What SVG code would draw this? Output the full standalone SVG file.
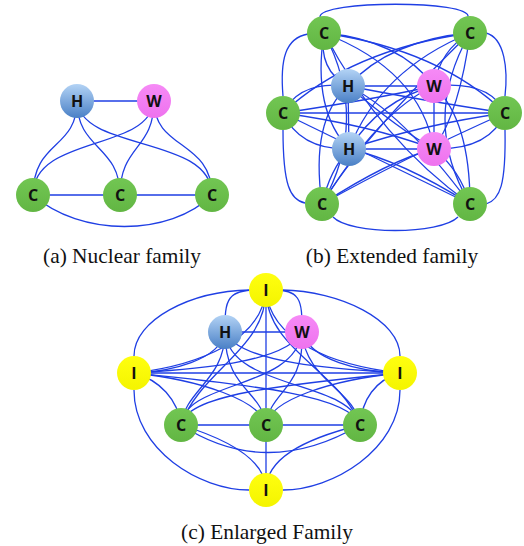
<svg xmlns="http://www.w3.org/2000/svg" width="524" height="546" viewBox="0 0 524 546">
<defs>
<linearGradient id="gH" x1="0" y1="0" x2="0" y2="1"><stop offset="0" stop-color="#b3d3f5"/><stop offset="1" stop-color="#4a80c6"/></linearGradient>
<linearGradient id="gW" x1="0" y1="0" x2="0" y2="1"><stop offset="0" stop-color="#f68af6"/><stop offset="1" stop-color="#ee72ee"/></linearGradient>
<linearGradient id="gC" x1="0" y1="0" x2="0" y2="1"><stop offset="0" stop-color="#72c653"/><stop offset="1" stop-color="#62b643"/></linearGradient>
<linearGradient id="gI" x1="0" y1="0" x2="0" y2="1"><stop offset="0" stop-color="#ffff10"/><stop offset="1" stop-color="#f4f400"/></linearGradient>
</defs>
<style>
.e{fill:none;stroke:#1f3fe4;stroke-width:1.3}
.h{fill:url(#gH)}.w{fill:url(#gW)}.c{fill:url(#gC)}.i{fill:url(#gI)}
.t{font-family:"Open Sans","Liberation Sans",Arial,sans-serif;font-weight:bold;font-size:16px;text-anchor:middle;fill:#111}
.cap{font-family:"Liberation Serif","Times New Roman",serif;font-size:21.4px;text-anchor:middle;fill:#111}
</style>
<rect width="524" height="546" fill="#fff"/>
<g id="connectors">
<!-- panel a -->
<path class="e" d="M77,101 L154,101"/>
<path class="e" d="M77,101 C77,150 33,140 33,195"/>
<path class="e" d="M77,101 C77,150 120,145 120,195"/>
<path class="e" d="M77,101 C82,152 212,135 212,195"/>
<path class="e" d="M154,101 C149,152 33,135 33,195"/>
<path class="e" d="M154,101 C154,150 120,145 120,195"/>
<path class="e" d="M154,101 C154,150 212,140 212,195"/>
<path class="e" d="M33,195 L120,195 M120,195 L212,195"/>
<path class="e" d="M33,195 C80,237 170,237 212,195"/>
<!-- panel b -->
<path class="e" d="M320,17 C320,0 472,0 468,17"/>
<path class="e" d="M308,34 C285,38 280,60 283,96"/>
<path class="e" d="M283,130 C283,185 290,200 305,203"/>
<path class="e" d="M486,33 C505,38 508,70 505,96"/>
<path class="e" d="M505,130 C506,185 500,200 486,204"/>
<path class="e" d="M333,217 C350,235 440,235 458,217"/>
<path class="e" d="M283,113 L505,113"/>
<path class="e" d="M324,33 Q318,70 348,86"/>
<path class="e" d="M324,33 Q400,40 434,86"/>
<path class="e" d="M324,33 Q312,110 349,149"/>
<path class="e" d="M324,33 Q420,70 434,149"/>
<path class="e" d="M324,33 Q440,50 505,113"/>
<path class="e" d="M324,33 Q370,120 322,204"/>
<path class="e" d="M324,33 Q380,140 470,204"/>
<path class="e" d="M470,33 Q390,40 348,86"/>
<path class="e" d="M470,33 Q440,50 434,86"/>
<path class="e" d="M470,33 Q380,70 349,149"/>
<path class="e" d="M470,33 Q460,110 434,149"/>
<path class="e" d="M470,33 Q350,50 283,113"/>
<path class="e" d="M470,33 Q360,140 322,204"/>
<path class="e" d="M470,33 Q420,120 470,204"/>
<path class="e" d="M283,113 Q300,80 348,86"/>
<path class="e" d="M283,113 Q370,100 434,86"/>
<path class="e" d="M283,113 Q300,150 349,149"/>
<path class="e" d="M283,113 Q370,125 434,149"/>
<path class="e" d="M283,113 Q380,160 470,204"/>
<path class="e" d="M505,113 Q420,100 348,86"/>
<path class="e" d="M505,113 Q490,80 434,86"/>
<path class="e" d="M505,113 Q420,125 349,149"/>
<path class="e" d="M505,113 Q490,150 434,149"/>
<path class="e" d="M505,113 Q400,160 322,204"/>
<path class="e" d="M322,204 Q310,120 348,86"/>
<path class="e" d="M322,204 Q380,110 434,86"/>
<path class="e" d="M322,204 Q330,170 349,149"/>
<path class="e" d="M322,204 Q390,160 434,149"/>
<path class="e" d="M470,204 Q400,110 348,86"/>
<path class="e" d="M470,204 Q470,120 434,86"/>
<path class="e" d="M470,204 Q400,160 349,149"/>
<path class="e" d="M470,204 Q460,170 434,149"/>
<path class="e" d="M348,86 L434,86"/>
<path class="e" d="M348,86 L349,149"/>
<path class="e" d="M348,86 Q400,130 434,149"/>
<path class="e" d="M434,86 Q380,100 349,149"/>
<path class="e" d="M434,86 L434,149"/>
<path class="e" d="M349,149 L434,149"/>
<!-- panel c -->
<path class="e" d="M250,290 C190,291 134,320 134,356"/>
<path class="e" d="M282,290 C340,291 400,320 400,356"/>
<path class="e" d="M134,390 C134,450 200,490 249,490"/>
<path class="e" d="M400,390 C400,450 332,490 283,490"/>
<path class="e" d="M266,290 C225,288 225,300 225,332"/>
<path class="e" d="M266,290 C302,288 302,300 302,332"/>
<path class="e" d="M266,290 L266,490"/>
<path class="e" d="M225,332 L302,332"/>
<path class="e" d="M134,373 L400,373"/>
<path class="e" d="M181,425 L266,425 M266,425 L360,425"/>
<path class="e" d="M181,425 C230,440 266,460 266,490"/>
<path class="e" d="M360,425 C300,440 266,460 266,490"/>
<path class="e" d="M181,425 Q266,480 360,425"/>
<path class="e" d="M266,290 C266,350 200,370 181,425"/>
<path class="e" d="M266,290 C266,350 340,370 360,425"/>
<path class="e" d="M266,290 C262,340 200,365 134,373"/>
<path class="e" d="M266,290 C270,340 330,365 400,373"/>
<path class="e" d="M225,332 C225,380 185,390 181,425"/>
<path class="e" d="M225,332 C225,390 262,390 266,425"/>
<path class="e" d="M225,332 C230,390 350,380 360,425"/>
<path class="e" d="M225,332 C220,360 170,372 134,373"/>
<path class="e" d="M225,332 C240,365 350,370 400,373"/>
<path class="e" d="M302,332 C295,390 185,380 181,425"/>
<path class="e" d="M302,332 C305,390 270,390 266,425"/>
<path class="e" d="M302,332 C305,380 355,390 360,425"/>
<path class="e" d="M302,332 C285,365 180,370 134,373"/>
<path class="e" d="M302,332 C310,360 360,372 400,373"/>
<path class="e" d="M134,373 C160,380 178,400 181,425"/>
<path class="e" d="M134,373 C200,380 260,400 266,425"/>
<path class="e" d="M134,373 C250,385 350,395 360,425"/>
<path class="e" d="M400,373 C280,385 185,395 181,425"/>
<path class="e" d="M400,373 C330,380 270,400 266,425"/>
<path class="e" d="M400,373 C375,380 362,400 360,425"/>
</g>
<!-- nodes panel a -->
<g id="a-H"><circle class="h" cx="77" cy="101" r="17"/><text class="t" x="77" y="107">H</text></g>
<g id="a-W"><circle class="w" cx="154" cy="101" r="17"/><text class="t" x="154" y="107">W</text></g>
<g id="a-C1"><circle class="c" cx="33" cy="195" r="17"/><text class="t" x="33" y="201">C</text></g>
<g id="a-C2"><circle class="c" cx="120" cy="195" r="17"/><text class="t" x="120" y="201">C</text></g>
<g id="a-C3"><circle class="c" cx="212" cy="195" r="17"/><text class="t" x="212" y="201">C</text></g>
<!-- nodes panel b -->
<g id="b-CTL"><circle class="c" cx="324" cy="33" r="17"/><text class="t" x="324" y="39">C</text></g>
<g id="b-CTR"><circle class="c" cx="470" cy="33" r="17"/><text class="t" x="470" y="39">C</text></g>
<g id="b-CL"><circle class="c" cx="283" cy="113" r="17"/><text class="t" x="283" y="119">C</text></g>
<g id="b-CR"><circle class="c" cx="505" cy="113" r="17"/><text class="t" x="505" y="119">C</text></g>
<g id="b-CBL"><circle class="c" cx="322" cy="204" r="17"/><text class="t" x="322" y="210">C</text></g>
<g id="b-CBR"><circle class="c" cx="470" cy="204" r="17"/><text class="t" x="470" y="210">C</text></g>
<g id="b-H1"><circle class="h" cx="348" cy="86" r="17"/><text class="t" x="348" y="92">H</text></g>
<g id="b-W1"><circle class="w" cx="434" cy="86" r="17"/><text class="t" x="434" y="92">W</text></g>
<g id="b-H2"><circle class="h" cx="349" cy="149" r="17"/><text class="t" x="349" y="155">H</text></g>
<g id="b-W2"><circle class="w" cx="434" cy="149" r="17"/><text class="t" x="434" y="155">W</text></g>
<!-- nodes panel c -->
<g id="c-It"><circle class="i" cx="266" cy="290" r="17"/><text class="t" x="266" y="296">I</text></g>
<g id="c-H"><circle class="h" cx="225" cy="332" r="17"/><text class="t" x="225" y="338">H</text></g>
<g id="c-W"><circle class="w" cx="302" cy="332" r="17"/><text class="t" x="302" y="338">W</text></g>
<g id="c-IL"><circle class="i" cx="134" cy="373" r="17"/><text class="t" x="134" y="379">I</text></g>
<g id="c-IR"><circle class="i" cx="400" cy="373" r="17"/><text class="t" x="400" y="379">I</text></g>
<g id="c-CL"><circle class="c" cx="181" cy="425" r="17"/><text class="t" x="181" y="431">C</text></g>
<g id="c-CM"><circle class="c" cx="266" cy="425" r="17"/><text class="t" x="266" y="431">C</text></g>
<g id="c-CR"><circle class="c" cx="360" cy="425" r="17"/><text class="t" x="360" y="431">C</text></g>
<g id="c-IB"><circle class="i" cx="266" cy="490" r="17"/><text class="t" x="266" y="496">I</text></g>
<!-- captions -->
<text class="cap" x="122" y="263">(a) Nuclear family</text>
<text class="cap" x="392" y="263">(b) Extended family</text>
<text class="cap" x="267" y="539">(c) Enlarged Family</text>
</svg>
